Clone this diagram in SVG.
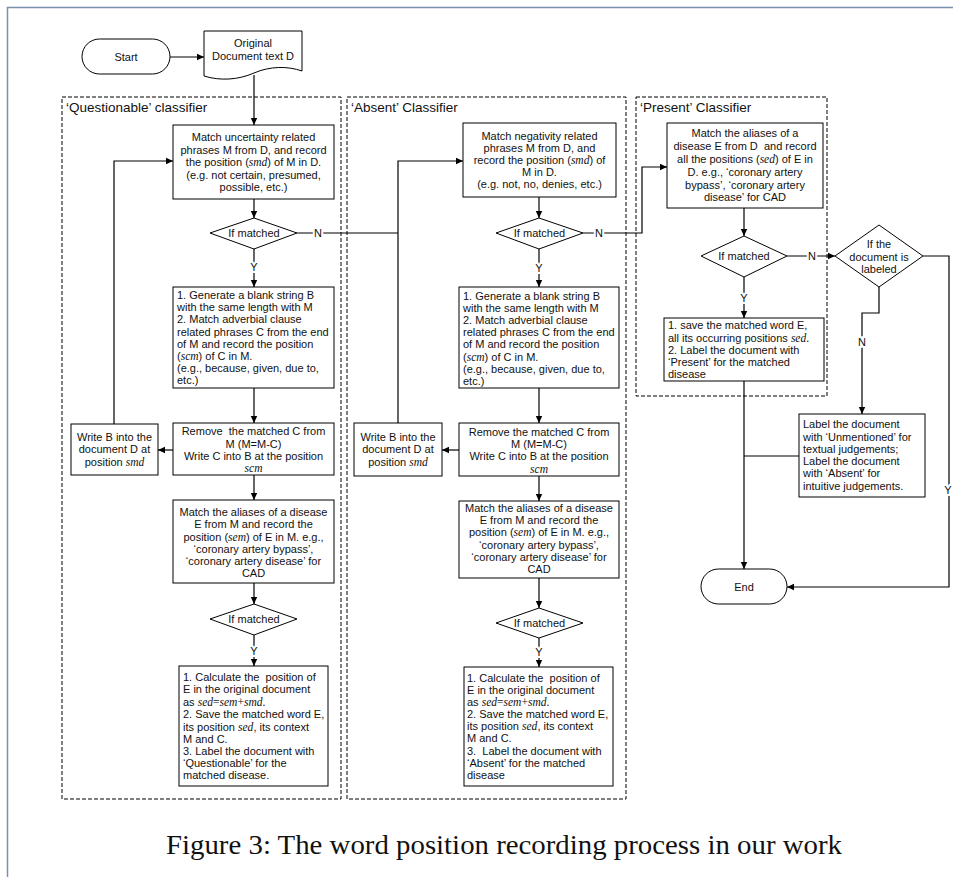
<svg xmlns="http://www.w3.org/2000/svg" width="953" height="877" viewBox="0 0 953 877">
<style>
.bg{fill:#fff}
.box{fill:#fff;stroke:#000;stroke-width:1}
.cont{fill:none;stroke:#000;stroke-width:1;stroke-dasharray:4 2}
.t{font-family:"Liberation Sans",Arial,sans-serif;font-size:11px;fill:#111}
.c{text-anchor:middle}
.v{font-family:"Liberation Serif","Times New Roman",serif;font-style:italic;font-size:11.5px}
.m{font-family:"Liberation Serif","Times New Roman",serif;font-size:11.5px}
.lbl{font-family:"Liberation Sans",Arial,sans-serif;font-size:13.5px;fill:#111}
.cn{fill:none;stroke:#000;stroke-width:1.2}
.yn{font-family:"Liberation Sans",Arial,sans-serif;font-size:11px;fill:#111;text-anchor:middle;paint-order:stroke;stroke:#fff;stroke-width:4px}
.cap{font-family:"Liberation Serif","Times New Roman",serif;font-size:26.5px;fill:#111}
</style>
<defs>
<marker id="ah" markerWidth="8" markerHeight="8" refX="7" refY="4" orient="auto" markerUnits="userSpaceOnUse">
<path d="M0,0.8 L7,4 L0,7.2 Z" fill="#000"/>
</marker>
</defs>
<rect class="bg" x="0" y="0" width="953" height="877"/>
<path d="M7.5,877 V7.5 H953" fill="none" stroke="#7b8fae" stroke-width="1.5"/>

<g id="containers">
<g id="questionable-classifier">
<rect class="cont" x="62" y="97" width="279" height="702"/>
<text class="lbl" x="66" y="112">‘Questionable’ classifier</text>
</g>
<g id="absent-classifier">
<rect class="cont" x="347" y="97" width="279" height="702"/>
<text class="lbl" x="351" y="112">‘Absent’ Classifier</text>
</g>
<g id="present-classifier">
<rect class="cont" x="636" y="97" width="191" height="299"/>
<text class="lbl" x="640" y="112">‘Present’ Classifier</text>
</g>
</g>

<g id="connectors">
<path class="cn" d="M170,57 H204" marker-end="url(#ah)"/>
<path class="cn" d="M254,75 V125" marker-end="url(#ah)"/>
<path class="cn" d="M254,199 V218" marker-end="url(#ah)"/>
<path class="cn" d="M254,249 V287" marker-end="url(#ah)"/>
<path class="cn" d="M297,233 H398"/>
<path class="cn" d="M254,388 V423" marker-end="url(#ah)"/>
<path class="cn" d="M173,450 H158" marker-end="url(#ah)"/>
<path class="cn" d="M114,424 V161 H173" marker-end="url(#ah)"/>
<path class="cn" d="M254,475 V500" marker-end="url(#ah)"/>
<path class="cn" d="M254,583 V604" marker-end="url(#ah)"/>
<path class="cn" d="M254,635 V666" marker-end="url(#ah)"/>

<path class="cn" d="M539,197 V218" marker-end="url(#ah)"/>
<path class="cn" d="M539,249 V287" marker-end="url(#ah)"/>
<path class="cn" d="M583,233 H642 V167 H667" marker-end="url(#ah)"/>
<path class="cn" d="M539,388 V423" marker-end="url(#ah)"/>
<path class="cn" d="M459,450 H442" marker-end="url(#ah)"/>
<path class="cn" d="M398,423 V161 H463" marker-end="url(#ah)"/>
<path class="cn" d="M539,476 V501" marker-end="url(#ah)"/>
<path class="cn" d="M539,578 V608" marker-end="url(#ah)"/>
<path class="cn" d="M539,638 V667" marker-end="url(#ah)"/>

<path class="cn" d="M744,208 V236" marker-end="url(#ah)"/>
<path class="cn" d="M744,277 V318" marker-end="url(#ah)"/>
<path class="cn" d="M787,256 H835" marker-end="url(#ah)"/>
<path class="cn" d="M923,256 H949 V587 H787" marker-end="url(#ah)"/>
<path class="cn" d="M879,287 V313 H862 V414" marker-end="url(#ah)"/>
<path class="cn" d="M744,381 V569" marker-end="url(#ah)"/>
<path class="cn" d="M799,456 H744"/>

<text class="yn" x="318" y="237">N</text>
<text class="yn" x="254" y="271">Y</text>
<text class="yn" x="254" y="655">Y</text>
<text class="yn" x="599" y="237">N</text>
<text class="yn" x="539" y="272">Y</text>
<text class="yn" x="539" y="656">Y</text>
<text class="yn" x="812" y="260">N</text>
<text class="yn" x="744" y="302">Y</text>
<text class="yn" x="862" y="346">N</text>
<text class="yn" x="948" y="494">Y</text>
</g>

<g id="start">
<rect class="box" x="82" y="39" width="88" height="35" rx="17.5"/>
<text class="t c" x="126" y="61">Start</text>
</g>

<g id="document">
<path class="box" d="M204,31 H302 V71 C288,66 270,66 254,73 C238,80 220,81 204,76 Z"/>
<text class="t c" x="253" y="47">Original</text>
<text class="t c" x="253" y="60">Document text D</text>
</g>

<!-- Questionable column -->
<g id="q-match">
<rect class="box" x="173" y="125" width="161" height="74"/>
<text class="t c" x="253.5" y="141">Match uncertainty related</text>
<text class="t c" x="253.5" y="153.5">phrases M from D, and record</text>
<text class="t c" x="253.5" y="166">the position (<tspan class="v">smd</tspan>) of M in D.</text>
<text class="t c" x="253.5" y="178.5">(e.g. not certain, presumed,</text>
<text class="t c" x="253.5" y="191">possible, etc.)</text>
</g>
<g id="q-if1">
<polygon class="box" points="210,233 254,218 297,233 254,249"/>
<text class="t c" x="254" y="237">If matched</text>
</g>
<g id="q-generate">
<rect class="box" x="173" y="287" width="161" height="101"/>
<text class="t" x="177" y="299">1. Generate a blank string B</text>
<text class="t" x="177" y="311">with the same length with M</text>
<text class="t" x="177" y="323">2. Match adverbial clause</text>
<text class="t" x="177" y="336">related phrases C from the end</text>
<text class="t" x="177" y="348">of M and record the position</text>
<text class="t" x="177" y="360">(<tspan class="v">scm</tspan>) of C in M.</text>
<text class="t" x="177" y="372">(e.g., because, given, due to,</text>
<text class="t" x="177" y="384">etc.)</text>
</g>
<g id="q-remove">
<rect class="box" x="173" y="423" width="161" height="52"/>
<text class="t c" x="253.5" y="435" xml:space="preserve">Remove  the matched C from</text>
<text class="t c" x="253.5" y="447.5">M (M=M-C)</text>
<text class="t c" x="253.5" y="459.5">Write C into B at the position</text>
<text class="t c" x="253.5" y="472"><tspan class="v">scm</tspan></text>
</g>
<g id="q-writeb">
<rect class="box" x="71" y="424" width="87" height="51"/>
<text class="t c" x="114.5" y="441">Write B into the</text>
<text class="t c" x="114.5" y="453">document D at</text>
<text class="t c" x="114.5" y="466">position <tspan class="v">smd</tspan></text>
</g>
<g id="q-aliases">
<rect class="box" x="173" y="500" width="161" height="83"/>
<text class="t c" x="253.5" y="516">Match the aliases of a disease</text>
<text class="t c" x="253.5" y="528">E from M and record the</text>
<text class="t c" x="253.5" y="541">position (<tspan class="v">sem</tspan>) of E in M. e.g.,</text>
<text class="t c" x="253.5" y="553">‘coronary artery bypass’,</text>
<text class="t c" x="253.5" y="565">‘coronary artery disease’ for</text>
<text class="t c" x="253.5" y="577">CAD</text>
</g>
<g id="q-if2">
<polygon class="box" points="210,619 254,604 297,619 254,635"/>
<text class="t c" x="254" y="623">If matched</text>
</g>
<g id="q-result">
<rect class="box" x="179" y="666" width="149" height="120"/>
<text class="t" x="183" y="681" xml:space="preserve">1. Calculate the  position of</text>
<text class="t" x="183" y="693">E in the original document</text>
<text class="t" x="183" y="705.5">as <tspan class="v">sed</tspan><tspan class="m">=</tspan><tspan class="v">sem</tspan><tspan class="m">+</tspan><tspan class="v">smd</tspan><tspan class="m">.</tspan></text>
<text class="t" x="183" y="718">2. Save the matched word E,</text>
<text class="t" x="183" y="730.5">its position <tspan class="v">sed</tspan>, its context</text>
<text class="t" x="183" y="742.5">M and C.</text>
<text class="t" x="183" y="755">3. Label the document with</text>
<text class="t" x="183" y="767">‘Questionable’ for the</text>
<text class="t" x="183" y="779">matched disease.</text>
</g>

<!-- Absent column -->
<g id="a-match">
<rect class="box" x="463" y="123" width="153" height="74"/>
<text class="t c" x="539.5" y="140">Match negativity related</text>
<text class="t c" x="539.5" y="152">phrases M from D, and</text>
<text class="t c" x="539.5" y="164">record the position (<tspan class="v">smd</tspan>) of</text>
<text class="t c" x="539.5" y="176">M in D.</text>
<text class="t c" x="539.5" y="188">(e.g. not, no, denies, etc.)</text>
</g>
<g id="a-if1">
<polygon class="box" points="496,233 539,218 583,233 539,249"/>
<text class="t c" x="539.5" y="237">If matched</text>
</g>
<g id="a-generate">
<rect class="box" x="459" y="287" width="160" height="101"/>
<text class="t" x="463" y="300">1. Generate a blank string B</text>
<text class="t" x="463" y="312">with the same length with M</text>
<text class="t" x="463" y="324">2. Match adverbial clause</text>
<text class="t" x="463" y="336">related phrases C from the end</text>
<text class="t" x="463" y="348">of M and record the position</text>
<text class="t" x="463" y="361">(<tspan class="v">scm</tspan>) of C in M.</text>
<text class="t" x="463" y="373">(e.g., because, given, due to,</text>
<text class="t" x="463" y="385">etc.)</text>
</g>
<g id="a-remove">
<rect class="box" x="459" y="423" width="160" height="53"/>
<text class="t c" x="539" y="436">Remove the matched C from</text>
<text class="t c" x="539" y="447.5">M (M=M-C)</text>
<text class="t c" x="539" y="459.5">Write C into B at the position</text>
<text class="t c" x="539" y="472.5"><tspan class="v">scm</tspan></text>
</g>
<g id="a-writeb">
<rect class="box" x="354" y="423" width="88" height="53"/>
<text class="t c" x="398" y="441">Write B into the</text>
<text class="t c" x="398" y="453">document D at</text>
<text class="t c" x="398" y="466">position <tspan class="v">smd</tspan></text>
</g>
<g id="a-aliases">
<rect class="box" x="459" y="501" width="160" height="77"/>
<text class="t c" x="539" y="512">Match the aliases of a disease</text>
<text class="t c" x="539" y="524">E from M and record the</text>
<text class="t c" x="539" y="536">position (<tspan class="v">sem</tspan>) of E in M. e.g.,</text>
<text class="t c" x="539" y="548.5">‘coronary artery bypass’,</text>
<text class="t c" x="539" y="561">‘coronary artery disease’ for</text>
<text class="t c" x="539" y="572.5">CAD</text>
</g>
<g id="a-if2">
<polygon class="box" points="496,623 539,608 583,623 539,638"/>
<text class="t c" x="539.5" y="627">If matched</text>
</g>
<g id="a-result">
<rect class="box" x="464" y="667" width="149" height="119"/>
<text class="t" x="467" y="682" xml:space="preserve">1. Calculate the  position of</text>
<text class="t" x="467" y="693.5">E in the original document</text>
<text class="t" x="467" y="705.5">as <tspan class="v">sed</tspan><tspan class="m">=</tspan><tspan class="v">sem</tspan><tspan class="m">+</tspan><tspan class="v">smd</tspan><tspan class="m">.</tspan></text>
<text class="t" x="467" y="718">2. Save the matched word E,</text>
<text class="t" x="467" y="730">its position <tspan class="v">sed</tspan>, its context</text>
<text class="t" x="467" y="742">M and C.</text>
<text class="t" x="467" y="755" xml:space="preserve">3.  Label the document with</text>
<text class="t" x="467" y="767">‘Absent’ for the matched</text>
<text class="t" x="467" y="779">disease</text>
</g>

<!-- Present column -->
<g id="p-match">
<rect class="box" x="667" y="123" width="156" height="85"/>
<text class="t c" x="745" y="137">Match the aliases of a</text>
<text class="t c" x="745" y="150" xml:space="preserve">disease E from D  and record</text>
<text class="t c" x="745" y="163">all the positions (<tspan class="v">sed</tspan>) of E in</text>
<text class="t c" x="745" y="176">D. e.g., ‘coronary artery</text>
<text class="t c" x="745" y="188.5">bypass’, ‘coronary artery</text>
<text class="t c" x="745" y="201">disease’ for CAD</text>
</g>
<g id="p-if">
<polygon class="box" points="701,256 744,236 787,256 744,277"/>
<text class="t c" x="744" y="260">If matched</text>
</g>
<g id="p-result">
<rect class="box" x="664" y="318" width="160" height="63"/>
<text class="t" x="668" y="329">1. save the matched word E,</text>
<text class="t" x="668" y="342">all its occurring positions <tspan class="v">sed</tspan><tspan class="m">.</tspan></text>
<text class="t" x="668" y="354">2. Label the document with</text>
<text class="t" x="668" y="366">‘Present’ for the matched</text>
<text class="t" x="668" y="378">disease</text>
</g>
<g id="is-labeled">
<polygon class="box" points="835,256 879,225 923,256 879,287"/>
<text class="t c" x="879" y="248">If the</text>
<text class="t c" x="879" y="261">document is</text>
<text class="t c" x="879" y="273">labeled</text>
</g>
<g id="unmentioned">
<rect class="box" x="799" y="414" width="126" height="83"/>
<text class="t" x="803" y="428">Label the document</text>
<text class="t" x="803" y="441">with ‘Unmentioned’ for</text>
<text class="t" x="803" y="453">textual judgements;</text>
<text class="t" x="803" y="465">Label the document</text>
<text class="t" x="803" y="477">with ‘Absent’ for</text>
<text class="t" x="803" y="490">intuitive judgements.</text>
</g>
<g id="end">
<rect class="box" x="701" y="569" width="86" height="35" rx="17.5"/>
<text class="t c" x="744" y="591">End</text>
</g>

<text class="cap" x="166" y="854" textLength="676" lengthAdjust="spacingAndGlyphs">Figure 3: The word position recording process in our work</text>
</svg>
